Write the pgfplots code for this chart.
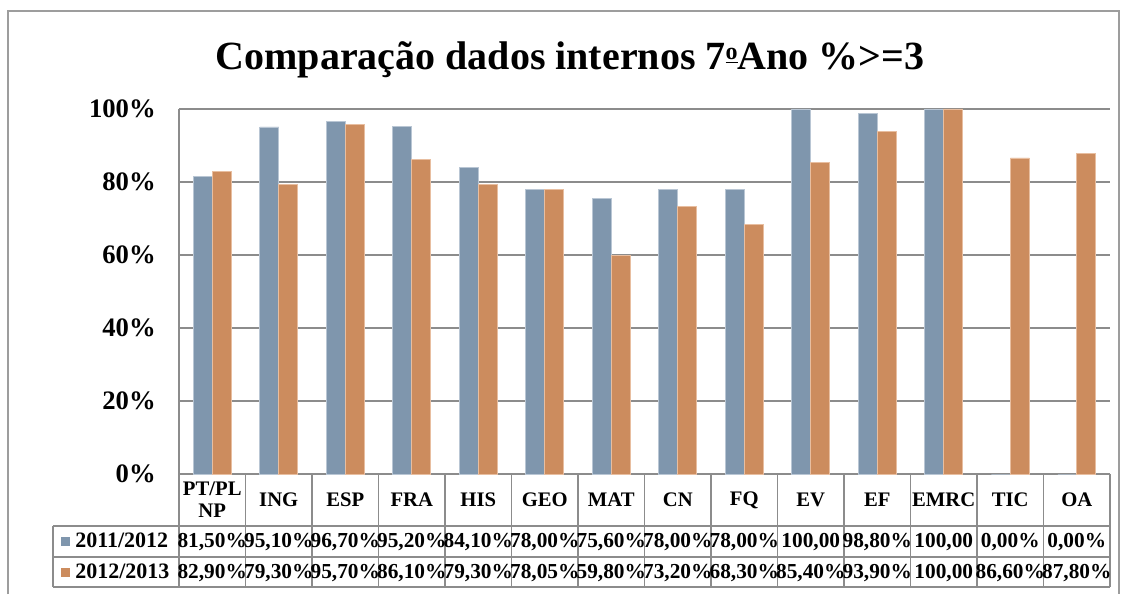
\documentclass[border=0pt]{standalone}
\usepackage{fontspec}
\setmainfont{Liberation Serif}
\usepackage{pgfplots}
\pgfplotsset{compat=1.18}
\definecolor{cA}{RGB}{127,150,173}
\definecolor{cB}{RGB}{204,140,94}
\definecolor{gl}{RGB}{140,140,140}

\begin{document}
\begin{tikzpicture}
\begin{scope}[x=0.75pt,y=-0.75pt,shift={(-134.25pt,355.5pt)}]
\useasboundingbox (0,0) rectangle (1126,594);
\end{scope}
\begin{axis}[at={(0,0)},anchor=south west, scale only axis,
 width=698.25pt, height=273.75pt,
 xmin=-0.5, xmax=13.5, ymin=0, ymax=100,
 ybar=0pt, bar width=14.25pt,
 xtick={0,...,13},
 xticklabels={{PT/PL\\NP},ING,ESP,FRA,HIS,GEO,MAT,CN,FQ,EV,EF,EMRC,TIC,OA},
 xticklabel style={anchor=center, yshift=-19.5pt, align=center, font=\fontsize{15.5}{16.5}\selectfont\bfseries, inner sep=0pt},
 ytick={0,20,...,100}, yticklabels={0\%,20\%,40\%,60\%,80\%,100\%},
 yticklabel style={anchor=east, xshift=-17.25pt, inner sep=0pt, font=\fontsize{20}{22}\selectfont\bfseries},
 major tick length=0pt,
 ymajorgrids, grid style={gl, line width=1.3pt},
 axis x line=bottom, axis y line=left, axis line style={-, gl, line width=1.3pt},
 clip=false,
]
\addplot[fill=cA, draw={rgb,255:red,185;green,198;blue,212}, line width=0.5pt] coordinates {
(0,81.5) (1,95.1) (2,96.7) (3,95.2) (4,84.1) (5,78.0) (6,75.6) (7,78.0) (8,78.0) (9,100) (10,98.8) (11,100) (12,0) (13,0)};
\addplot[fill=cB, draw={rgb,255:red,232;green,190;blue,160}, line width=0.5pt] coordinates {
(0,82.9) (1,79.3) (2,95.7) (3,86.1) (4,79.3) (5,78.05) (6,59.8) (7,73.2) (8,68.3) (9,85.4) (10,93.9) (11,100) (12,86.6) (13,87.8)};
\end{axis}
\begin{scope}[x=0.75pt,y=-0.75pt,shift={(-134.25pt,355.5pt)}]
\draw[gl, line width=1.3pt] (53,526) -- (1110,526) (53,557) -- (1110,557) (53,587) -- (1110,587) (53,526) -- (53,587);
\foreach \k in {0,...,14} \draw[gl,line width=1.3pt] ({179+\k*66.5},474) -- ({179+\k*66.5},587);
\draw[gl!85, line width=1.2pt] (8,594) -- (8,11) -- (1119,11) -- (1119,594);
\node[anchor=base, font=\fontsize{30}{32}\selectfont\bfseries, inner sep=0pt] at (570,70) {Comparação dados internos 7\raisebox{0.55ex}{\fontsize{18}{18}\selectfont\underline{o}}Ano \%>=3};
\fill[cA] (61,537) rectangle (70,546);
\fill[cB] (61,568) rectangle (70,577);
\node[anchor=base west, inner sep=0pt, font=\fontsize{16.5}{17}\selectfont\bfseries] at (75,548) {2011/2012};
\node[anchor=base west, inner sep=0pt, font=\fontsize{16.5}{17}\selectfont\bfseries] at (75,578.5) {2012/2013};
\foreach \v [count=\i from 0] in {{81,50\%},{95,10\%},{96,70\%},{95,20\%},{84,10\%},{78,00\%},{75,60\%},{78,00\%},{78,00\%},{100,00},{98,80\%},{100,00},{0,00\%},{0,00\%}}
  \node[anchor=base, inner sep=0pt, font=\fontsize{16}{17}\selectfont\bfseries] at ({212.25+\i*66.5},548) {\v};
\foreach \v [count=\i from 0] in {{82,90\%},{79,30\%},{95,70\%},{86,10\%},{79,30\%},{78,05\%},{59,80\%},{73,20\%},{68,30\%},{85,40\%},{93,90\%},{100,00},{86,60\%},{87,80\%}}
  \node[anchor=base, inner sep=0pt, font=\fontsize{16}{17}\selectfont\bfseries] at ({212.25+\i*66.5},578.5) {\v};
\end{scope}
\end{tikzpicture}
\end{document}
